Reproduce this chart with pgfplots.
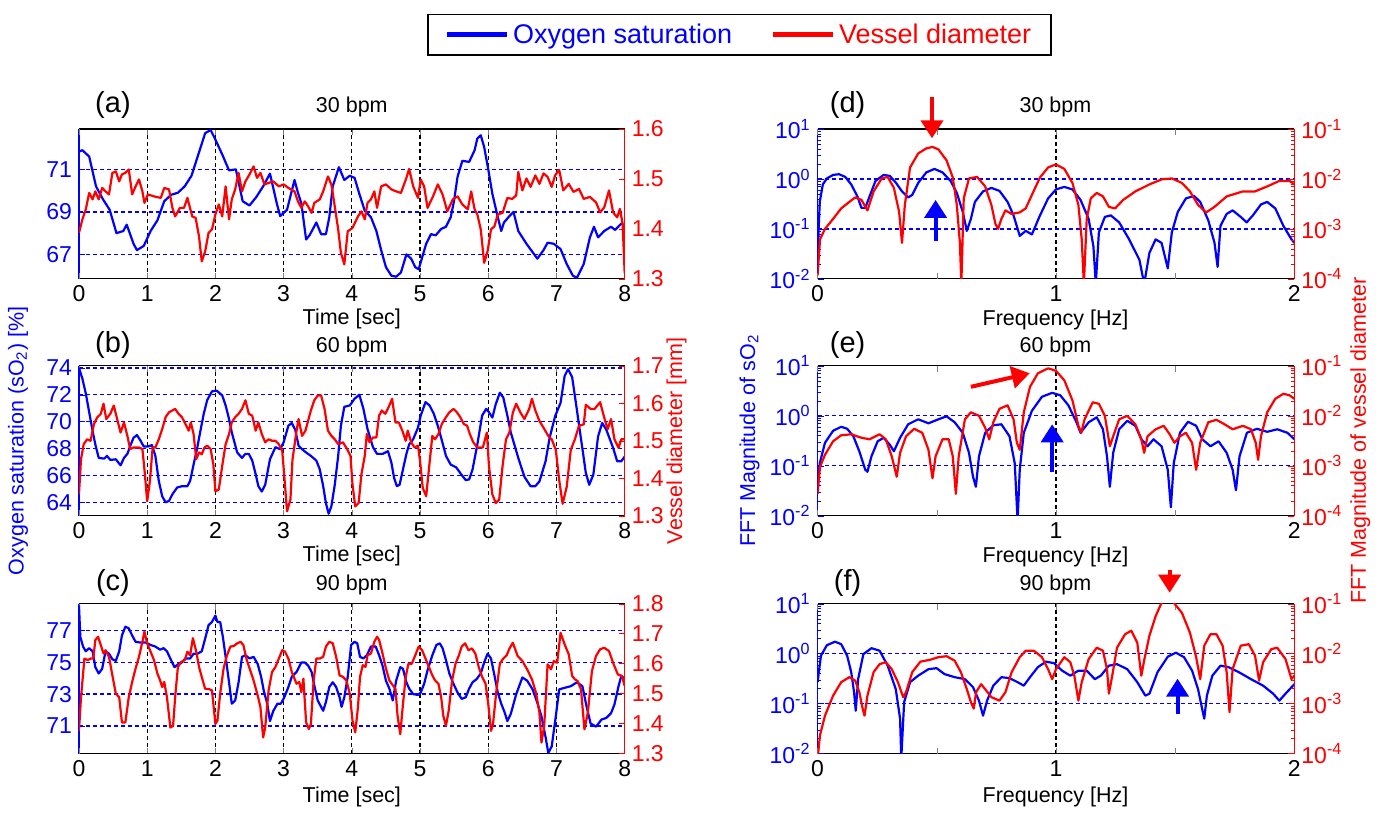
\documentclass[border=0pt]{standalone}
\usepackage{fontspec}
\setmainfont{Liberation Sans}
\usepackage{pgfplots}
\pgfplotsset{compat=1.18}
\usetikzlibrary{arrows.meta}

\definecolor{mblue}{rgb}{0,0,1}
\definecolor{mred}{rgb}{1,0,0}

\tikzset{arr/.style={line width=2pt, -{Triangle[width=11pt,length=9pt]}}}

\pgfplotsset{
  panel/.style={scale only axis, anchor=south west, height=75pt,
    clip mode=individual, tick align=inside,
    major tick length=3pt, minor tick length=1.6pt,
    /pgf/number format/assume math mode=true,
    ticklabel style={font=\fontsize{11.5}{11.5}\selectfont},
    every axis plot/.append style={line width=1.1pt, line join=round}},
  sob/.style={axis y line*=left,
    y axis line style={mblue, line width=0.6pt},
    x axis line style={black, line width=0.6pt},
    ytick style={mblue}, yticklabel style={mblue},
    major x grid style={black, dash pattern=on 2pt off 1.5pt, line width=0.6pt},
    major y grid style={mblue, dash pattern=on 2pt off 1.5pt, line width=0.7pt}},
  vd/.style={axis y line*=right, hide x axis,
    y axis line style={mred, line width=0.6pt},
    ytick style={mred}, yticklabel style={mred}},
  tpan/.style={panel, width=273pt, xmin=0, xmax=8,
    xtick={1,...,7}, extra x ticks={0,8}, extra x tick style={grid=none}},
  fblue/.style={panel, sob, width=238.5pt, xmin=0, xmax=2, ymin=1e-2, ymax=1e1,
    xtick={1}, xmajorgrids, extra x ticks={0,0.5,1.5,2}, extra x tick labels={0,,,2},
    extra x tick style={grid=none},
    ytick={0.1,1}, yticklabels={10\textsuperscript{-1},10\textsuperscript{0}}, ymajorgrids,
    extra y ticks={0.01,10}, extra y tick labels={10\textsuperscript{-2},10\textsuperscript{1}},
    extra y tick style={grid=none},
    minor ytick={0.02,0.03,0.04,0.05,0.06,0.07,0.08,0.09,0.2,0.3,0.4,0.5,0.6,0.7,0.8,0.9,2,3,4,5,6,7,8,9}},
  fred/.style={panel, vd, width=238.5pt, xmin=0, xmax=2, ymin=1e-4, ymax=1e-1,
    ytick={1e-4,1e-3,1e-2,1e-1},
    yticklabels={10\textsuperscript{-4},10\textsuperscript{-3},10\textsuperscript{-2},10\textsuperscript{-1}},
    minor ytick={2e-4,3e-4,4e-4,5e-4,6e-4,7e-4,8e-4,9e-4,2e-3,3e-3,4e-3,5e-3,6e-3,7e-3,8e-3,9e-3,2e-2,3e-2,4e-2,5e-2,6e-2,7e-2,8e-2,9e-2}},
}

\begin{document}
\begin{tikzpicture}
\begin{scope}[x=0.5pt,y=-0.5pt]
\useasboundingbox (0,0) rectangle (1377,810);
\end{scope}

% ---------- (a) 30 bpm ----------
\begin{axis}[tpan, sob, at={(39.5pt,-139.5pt)}, ymin=65.85, ymax=72.9,
  xmajorgrids, ytick={67,69,71}, ymajorgrids,
  legend style={at={(1.2106,1.627)}, anchor=center, draw=black, line width=0.7pt,
    font=\fontsize{13.5}{16}\selectfont, legend columns=2,
    /tikz/every even column/.append style={column sep=17pt},
    inner xsep=8pt, inner ysep=2.5pt},
  legend image code/.code={\draw[#1] (0pt,0pt) -- (30pt,0pt);}]
\addlegendimage{mblue, line width=2.5pt}
\addlegendentry{\textcolor{mblue}{Oxygen saturation}}
\addlegendimage{mred, line width=2.5pt}
\addlegendentry{\textcolor{mred}{Vessel diameter}}
\addplot[mblue] table {
0 71.83
0.05 71.9
0.15 71.6
0.25 70.2
0.35 69.6
0.45 69.1
0.55 68.0
0.65 68.1
0.7 68.4
0.8 67.5
0.85 67.2
0.95 67.4
1.05 68.1
1.15 68.6
1.25 69.5
1.35 69.8
1.45 69.9
1.55 70.2
1.65 70.7
1.75 71.7
1.85 72.7
1.93 72.85
2.0 72.4
2.1 71.7
2.2 70.95
2.3 71.0
2.4 69.5
2.5 69.3
2.6 69.7
2.7 70.2
2.8 70.8
2.9 69.4
2.95 68.8
3.05 69.1
3.16 70.5
3.21 69.9
3.26 69.4
3.33 67.7
3.38 67.9
3.48 68.5
3.55 67.95
3.62 67.95
3.67 68.75
3.72 70.2
3.81 71.1
3.89 70.5
3.97 70.7
4.04 70.6
4.11 69.85
4.19 69.05
4.28 68.75
4.36 68.1
4.43 67.2
4.5 66.4
4.58 66.0
4.65 65.95
4.72 66.15
4.8 67.0
4.87 66.8
4.93 66.4
4.98 66.3
5.03 66.85
5.09 67.5
5.16 67.95
5.23 67.9
5.31 68.2
5.38 68.3
5.45 68.75
5.5 69.55
5.55 70.65
5.62 71.4
5.72 71.35
5.8 71.9
5.84 72.45
5.89 72.6
5.94 72.05
6.0 71.0
6.06 69.85
6.14 68.75
6.19 68.1
6.23 68.5
6.31 68.8
6.37 69.0
6.44 68.1
6.56 67.5
6.72 66.8
6.81 67.2
6.87 67.55
6.96 67.5
7.06 67.25
7.15 66.55
7.24 66.0
7.3 65.9
7.4 66.55
7.49 67.8
7.55 68.3
7.61 67.8
7.7 68.1
7.8 68.3
7.86 68.15
7.95 68.45
8.0 68.35
};
\end{axis}
\begin{axis}[tpan, vd, at={(39.5pt,-139.5pt)}, ymin=1.3, ymax=1.6,
  ytick={1.3,1.4,1.5,1.6}, yticklabels={1.3,1.4,1.5,1.6}]
\addplot[mred] table {
0 1.392
0.05 1.419
0.1 1.439
0.15 1.472
0.2 1.459
0.24 1.475
0.29 1.459
0.34 1.482
0.39 1.475
0.44 1.469
0.49 1.512
0.54 1.515
0.59 1.495
0.63 1.509
0.68 1.512
0.73 1.519
0.78 1.469
0.83 1.485
0.88 1.499
0.93 1.475
0.96 1.452
1.01 1.469
1.1 1.465
1.2 1.462
1.25 1.482
1.32 1.479
1.37 1.442
1.41 1.425
1.48 1.442
1.54 1.442
1.59 1.462
1.66 1.425
1.71 1.422
1.76 1.385
1.8 1.335
1.85 1.355
1.9 1.392
1.95 1.399
2.0 1.429
2.05 1.449
2.1 1.425
2.15 1.485
2.2 1.419
2.24 1.459
2.29 1.479
2.34 1.512
2.39 1.475
2.44 1.495
2.5 1.509
2.56 1.525
2.61 1.502
2.66 1.512
2.72 1.489
2.78 1.492
2.85 1.495
2.93 1.485
3.0 1.489
3.07 1.482
3.16 1.475
3.21 1.455
3.26 1.442
3.31 1.455
3.36 1.445
3.41 1.432
3.45 1.452
3.53 1.459
3.58 1.475
3.65 1.505
3.7 1.489
3.75 1.445
3.8 1.399
3.84 1.352
3.89 1.329
3.94 1.395
4.01 1.402
4.09 1.425
4.14 1.435
4.19 1.419
4.23 1.452
4.28 1.459
4.33 1.475
4.37 1.442
4.43 1.485
4.5 1.489
4.58 1.479
4.65 1.475
4.72 1.472
4.8 1.502
4.84 1.52
4.9 1.485
4.97 1.462
5.01 1.499
5.06 1.485
5.11 1.442
5.19 1.465
5.26 1.489
5.33 1.469
5.4 1.435
5.48 1.459
5.55 1.465
5.62 1.449
5.7 1.439
5.75 1.475
5.8 1.439
5.84 1.429
5.89 1.399
5.94 1.332
5.99 1.355
6.04 1.399
6.09 1.405
6.14 1.429
6.21 1.432
6.28 1.462
6.35 1.46
6.41 1.467
6.44 1.514
6.5 1.477
6.56 1.501
6.62 1.484
6.69 1.507
6.75 1.49
6.81 1.511
6.87 1.504
6.93 1.484
6.98 1.507
7.04 1.518
7.1 1.477
7.18 1.49
7.25 1.474
7.33 1.48
7.4 1.46
7.49 1.464
7.58 1.453
7.64 1.433
7.7 1.443
7.77 1.477
7.83 1.433
7.89 1.423
7.93 1.44
7.97 1.41
8.0 1.311
};
\end{axis}

% ---------- (b) 60 bpm ----------
\begin{axis}[tpan, sob, at={(39.5pt,-258pt)}, ymin=63.0, ymax=74.15,
  xmajorgrids, ytick={64,66,...,74}, ymajorgrids]
\addplot[mblue] table {
0 74.0
0.05 73.2
0.1 72.1
0.15 70.7
0.2 69.3
0.24 68.3
0.29 67.3
0.37 67.25
0.41 67.45
0.46 67.15
0.54 67.2
0.61 66.75
0.66 67.3
0.71 67.6
0.76 68.3
0.8 68.8
0.85 69.0
0.9 68.6
0.95 68.15
1.01 68.15
1.07 68.25
1.12 67.45
1.17 65.6
1.22 64.45
1.27 64.0
1.32 64.1
1.37 64.6
1.44 65.1
1.51 65.2
1.59 65.2
1.63 65.6
1.68 66.8
1.73 67.95
1.78 69.3
1.83 70.6
1.88 71.6
1.95 72.25
2.02 72.3
2.1 71.95
2.15 71.2
2.2 70.2
2.24 69.2
2.32 67.7
2.39 67.3
2.44 67.6
2.49 67.6
2.54 67.1
2.59 66.1
2.63 65.2
2.68 64.8
2.73 65.3
2.8 67.2
2.88 68.1
2.95 67.95
3.0 68.45
3.07 69.7
3.12 69.9
3.17 69.4
3.22 68.2
3.26 68.0
3.33 67.7
3.4 67.45
3.48 67.1
3.53 66.45
3.58 65.2
3.62 63.95
3.66 63.15
3.7 63.7
3.75 65.3
3.8 67.45
3.84 69.7
3.89 71.1
3.97 71.2
4.04 71.7
4.11 72.0
4.17 70.95
4.23 69.45
4.31 68.1
4.37 67.6
4.45 67.6
4.53 67.8
4.58 66.95
4.62 65.8
4.66 65.2
4.7 65.3
4.75 66.45
4.8 67.6
4.84 68.3
4.9 68.7
4.97 69.55
5.01 70.45
5.08 71.45
5.14 71.2
5.2 70.6
5.26 69.7
5.32 68.6
5.38 67.45
5.45 66.8
5.53 66.6
5.6 66.1
5.67 65.65
5.72 65.7
5.77 66.45
5.84 68.3
5.91 70.45
5.97 70.95
6.01 70.7
6.06 70.3
6.11 71.3
6.17 72.15
6.22 71.8
6.28 70.45
6.33 69.2
6.44 67.3
6.53 65.9
6.62 65.2
6.69 65.2
6.75 65.55
6.84 67.05
6.9 68.8
6.98 70.4
7.06 71.4
7.12 73.4
7.17 73.9
7.23 73.3
7.29 71.2
7.36 68.7
7.43 66.2
7.48 65.3
7.54 66.05
7.61 68.9
7.67 69.9
7.73 69.4
7.83 68.05
7.89 67.05
7.95 67.05
8.0 67.4
};
\end{axis}
\begin{axis}[tpan, vd, at={(39.5pt,-258pt)}, ymin=1.3, ymax=1.7,
  ytick={1.3,1.4,1.5,1.6,1.7}, yticklabels={1.3,1.4,1.5,1.6,1.7}]
\addplot[mred] table {
0 1.357
0.03 1.451
0.07 1.491
0.12 1.504
0.17 1.5
0.22 1.545
0.27 1.563
0.32 1.572
0.36 1.599
0.4 1.558
0.46 1.572
0.51 1.594
0.56 1.558
0.61 1.522
0.66 1.549
0.71 1.513
0.75 1.478
0.8 1.482
0.88 1.482
0.93 1.478
0.96 1.424
1.0 1.339
1.04 1.392
1.08 1.482
1.12 1.482
1.17 1.504
1.22 1.531
1.27 1.563
1.32 1.576
1.37 1.581
1.41 1.585
1.46 1.572
1.51 1.563
1.56 1.545
1.61 1.527
1.64 1.549
1.68 1.518
1.72 1.451
1.76 1.469
1.8 1.464
1.84 1.482
1.88 1.487
1.93 1.478
1.97 1.437
2.0 1.365
2.05 1.37
2.1 1.433
2.15 1.491
2.2 1.518
2.24 1.549
2.29 1.563
2.34 1.572
2.39 1.585
2.44 1.608
2.49 1.572
2.54 1.567
2.59 1.527
2.63 1.549
2.68 1.518
2.73 1.496
2.78 1.504
2.83 1.5
2.88 1.5
2.93 1.491
2.98 1.473
3.01 1.406
3.05 1.312
3.1 1.343
3.13 1.45
3.19 1.527
3.22 1.558
3.27 1.513
3.32 1.527
3.36 1.554
3.4 1.581
3.45 1.608
3.5 1.621
3.55 1.621
3.6 1.585
3.65 1.527
3.7 1.513
3.75 1.504
3.8 1.491
3.87 1.496
3.93 1.478
3.98 1.46
4.01 1.383
4.05 1.325
4.1 1.334
4.14 1.41
4.19 1.46
4.22 1.518
4.26 1.496
4.31 1.509
4.36 1.509
4.4 1.567
4.44 1.581
4.49 1.572
4.54 1.59
4.59 1.612
4.64 1.549
4.69 1.549
4.74 1.527
4.79 1.5
4.82 1.527
4.87 1.496
4.92 1.482
4.97 1.487
5.0 1.446
5.04 1.374
5.09 1.352
5.13 1.424
5.18 1.513
5.22 1.504
5.27 1.518
5.32 1.545
5.38 1.563
5.43 1.576
5.49 1.585
5.54 1.576
5.59 1.563
5.64 1.545
5.69 1.54
5.73 1.518
5.78 1.496
5.84 1.482
5.92 1.482
5.98 1.522
6.01 1.433
6.06 1.357
6.11 1.334
6.16 1.343
6.21 1.433
6.26 1.504
6.31 1.522
6.36 1.575
6.41 1.599
6.47 1.576
6.53 1.558
6.6 1.585
6.64 1.612
6.69 1.581
6.75 1.553
6.81 1.535
6.88 1.513
6.93 1.504
6.99 1.476
7.04 1.395
7.09 1.332
7.15 1.377
7.21 1.476
7.27 1.504
7.33 1.54
7.4 1.544
7.43 1.596
7.5 1.585
7.56 1.585
7.64 1.603
7.7 1.562
7.75 1.531
7.8 1.558
7.85 1.504
7.91 1.481
7.95 1.504
8.0 1.504
};
\end{axis}

% ---------- (c) 90 bpm ----------
\begin{axis}[tpan, sob, at={(39.5pt,-377pt)}, ymin=69.25, ymax=78.7,
  xmajorgrids, ytick={71,73,75,77}, ymajorgrids]
\addplot[mblue] table {
0 78.6
0.02 76.6
0.06 76.0
0.1 75.7
0.15 75.9
0.2 75.7
0.24 74.7
0.29 74.3
0.34 74.6
0.39 75.7
0.44 75.55
0.49 75.2
0.54 75.1
0.59 75.7
0.63 76.7
0.68 77.25
0.73 77.15
0.78 76.7
0.83 76.3
0.9 76.25
0.98 76.25
1.05 76.1
1.12 76.0
1.19 75.8
1.24 75.9
1.29 75.7
1.35 75.15
1.4 74.7
1.46 74.9
1.51 75.0
1.56 75.25
1.63 75.25
1.68 75.55
1.74 75.55
1.8 75.7
1.85 76.5
1.9 77.35
1.95 77.55
2.0 77.95
2.03 77.55
2.07 77.55
2.11 76.6
2.15 75.35
2.2 73.75
2.24 72.4
2.29 72.6
2.34 73.75
2.39 75.35
2.44 75.45
2.5 75.25
2.56 75.35
2.62 74.9
2.67 74.1
2.71 73.2
2.76 72.4
2.8 71.3
2.85 71.95
2.91 72.4
2.96 72.4
3.01 72.8
3.07 73.45
3.12 74.1
3.19 74.4
3.26 75.0
3.31 75.0
3.36 74.8
3.41 74.4
3.45 73.55
3.5 72.6
3.58 71.95
3.62 72.5
3.67 73.45
3.72 73.75
3.77 73.45
3.82 72.8
3.85 72.2
3.89 72.8
3.94 74.1
3.99 76.1
4.04 76.3
4.08 76.2
4.12 75.35
4.17 75.25
4.22 75.45
4.28 76.0
4.35 76.0
4.4 75.45
4.45 74.8
4.5 73.85
4.55 73.35
4.6 72.6
4.65 73.85
4.71 74.7
4.75 74.6
4.8 73.75
4.84 73.35
4.9 73.0
4.97 72.95
5.01 73.1
5.06 73.65
5.11 74.5
5.18 75.45
5.24 76.1
5.29 76.2
5.33 75.9
5.38 75.15
5.43 74.3
5.49 73.65
5.55 73.1
5.61 72.7
5.67 72.8
5.72 73.35
5.77 73.75
5.83 73.95
5.89 74.3
5.94 75.0
5.99 75.55
6.04 75.25
6.09 74.2
6.14 73.1
6.19 72.4
6.24 71.85
6.28 71.3
6.33 71.75
6.41 73.0
6.5 74.05
6.57 73.85
6.65 73.3
6.72 72.45
6.78 71.6
6.84 70.3
6.88 69.3
6.93 69.7
6.99 71.6
7.04 73.3
7.12 73.4
7.21 73.5
7.3 73.75
7.38 73.5
7.44 72.25
7.5 71.15
7.58 70.95
7.66 71.4
7.73 71.5
7.8 71.8
7.85 72.35
7.91 73.5
7.95 74.15
8.0 73.95
};
\end{axis}
\begin{axis}[tpan, vd, at={(39.5pt,-377pt)}, ymin=1.3, ymax=1.8,
  ytick={1.3,1.4,1.5,1.6,1.7,1.8}, yticklabels={1.3,1.4,1.5,1.6,1.7,1.8}]
\addplot[mred] table {
0 1.376
0.03 1.488
0.08 1.617
0.13 1.612
0.17 1.617
0.21 1.617
0.24 1.679
0.28 1.69
0.32 1.662
0.36 1.634
0.39 1.645
0.44 1.623
0.49 1.561
0.54 1.5
0.59 1.488
0.63 1.404
0.68 1.404
0.73 1.488
0.78 1.539
0.83 1.584
0.88 1.623
0.93 1.673
0.96 1.707
1.0 1.668
1.05 1.64
1.1 1.612
1.15 1.567
1.19 1.544
1.22 1.522
1.25 1.539
1.29 1.488
1.34 1.387
1.38 1.393
1.41 1.488
1.45 1.589
1.5 1.606
1.55 1.612
1.59 1.64
1.63 1.628
1.67 1.685
1.72 1.64
1.76 1.589
1.8 1.556
1.85 1.516
1.9 1.516
1.95 1.511
2.0 1.399
2.03 1.41
2.07 1.5
2.12 1.584
2.17 1.628
2.22 1.657
2.27 1.659
2.32 1.668
2.37 1.673
2.41 1.662
2.46 1.612
2.51 1.578
2.56 1.544
2.62 1.494
2.66 1.455
2.7 1.354
2.73 1.387
2.78 1.511
2.83 1.572
2.88 1.589
2.93 1.617
2.98 1.645
3.02 1.64
3.07 1.617
3.12 1.572
3.19 1.533
3.23 1.539
3.26 1.505
3.29 1.55
3.33 1.404
3.37 1.382
3.4 1.399
3.44 1.544
3.48 1.617
3.53 1.617
3.58 1.623
3.62 1.657
3.67 1.673
3.72 1.668
3.77 1.623
3.82 1.561
3.87 1.556
3.92 1.544
3.97 1.5
4.01 1.41
4.05 1.371
4.09 1.455
4.12 1.556
4.16 1.595
4.2 1.589
4.23 1.628
4.28 1.634
4.33 1.673
4.37 1.69
4.4 1.679
4.45 1.634
4.5 1.584
4.55 1.544
4.6 1.528
4.64 1.516
4.67 1.427
4.71 1.365
4.75 1.466
4.79 1.556
4.83 1.6
4.88 1.6
4.93 1.628
4.98 1.657
5.03 1.645
5.08 1.617
5.13 1.589
5.18 1.561
5.22 1.544
5.27 1.533
5.31 1.488
5.34 1.427
5.38 1.393
5.42 1.443
5.47 1.544
5.52 1.6
5.57 1.628
5.61 1.657
5.66 1.668
5.71 1.645
5.76 1.651
5.81 1.634
5.86 1.589
5.91 1.556
5.96 1.533
6.0 1.466
6.04 1.376
6.07 1.399
6.12 1.511
6.17 1.6
6.22 1.617
6.27 1.628
6.31 1.65
6.36 1.67
6.43 1.626
6.5 1.609
6.57 1.581
6.64 1.548
6.7 1.503
6.75 1.437
6.78 1.337
6.82 1.392
6.87 1.598
6.92 1.581
6.96 1.609
7.01 1.603
7.06 1.703
7.12 1.664
7.18 1.631
7.23 1.559
7.27 1.548
7.31 1.542
7.36 1.514
7.41 1.381
7.46 1.437
7.52 1.576
7.58 1.626
7.64 1.648
7.7 1.653
7.77 1.642
7.83 1.603
7.9 1.564
7.96 1.559
8.0 1.526
};
\end{axis}

% ---------- (d) FFT 30 bpm ----------
\begin{axis}[ymode=log, fblue, at={(409pt,-139.5pt)}]
\addplot[mblue] table[x index=0, y expr={10^(\thisrowno{1})}] {
0 -1.55
0.009 -0.46
0.022 -0.11
0.039 0.01
0.065 0.08
0.09 0.094
0.116 0.04
0.141 -0.11
0.167 -0.35
0.184 -0.58
0.2 -0.58
0.218 -0.35
0.243 -0.04
0.277 0.08
0.303 0.06
0.329 -0.08
0.354 -0.25
0.38 -0.37
0.397 -0.32
0.422 -0.08
0.456 0.13
0.49 0.2
0.524 0.13
0.558 -0.04
0.584 -0.28
0.609 -0.66
0.626 -1.04
0.643 -0.80
0.66 -0.46
0.694 -0.25
0.729 -0.18
0.763 -0.24
0.797 -0.46
0.822 -0.73
0.848 -1.14
0.873 -1.04
0.899 -1.11
0.933 -0.73
0.967 -0.39
1.0 -0.21
1.035 -0.16
1.069 -0.21
1.103 -0.42
1.137 -0.80
1.157 -1.35
1.167 -2.1
1.18 -1.07
1.205 -0.76
1.23 -0.73
1.265 -0.87
1.307 -1.21
1.35 -1.62
1.37 -2.1
1.392 -1.48
1.418 -1.21
1.443 -1.28
1.469 -1.79
1.486 -1.07
1.511 -0.66
1.545 -0.39
1.579 -0.34
1.605 -0.46
1.639 -0.83
1.665 -1.28
1.678 -1.76
1.69 -0.94
1.716 -0.70
1.741 -0.63
1.775 -0.76
1.8 -0.87
1.826 -0.73
1.86 -0.51
1.886 -0.46
1.92 -0.59
1.954 -0.94
1.988 -1.21
2.0 -1.28
};
\draw[mred, arr] (axis cs:0.48,43.7) -- (axis cs:0.48,6.5);
\draw[mblue, arr] (axis cs:0.495,0.0575) -- (axis cs:0.495,0.38);
\end{axis}
\begin{axis}[ymode=log, fred, at={(409pt,-139.5pt)}]
\addplot[mred] table[x index=0, y expr={10^(\thisrowno{1})}] {
0 -3.93
0.01 -3.21
0.031 -3.0
0.065 -2.8
0.099 -2.59
0.133 -2.46
0.158 -2.37
0.184 -2.42
0.209 -2.63
0.235 -2.25
0.269 -1.99
0.294 -1.96
0.32 -2.18
0.342 -2.66
0.354 -3.28
0.366 -2.52
0.388 -1.77
0.422 -1.49
0.456 -1.39
0.482 -1.36
0.507 -1.41
0.541 -1.63
0.567 -1.97
0.584 -2.52
0.597 -3.28
0.603 -4.1
0.613 -2.39
0.635 -1.99
0.669 -1.96
0.703 -2.15
0.729 -2.52
0.746 -2.90
0.757 -3.0
0.771 -2.80
0.788 -2.63
0.814 -2.7
0.848 -2.67
0.873 -2.59
0.899 -2.32
0.933 -1.97
0.967 -1.77
1.0 -1.71
1.035 -1.8
1.069 -2.08
1.094 -2.52
1.108 -3.21
1.117 -4.1
1.129 -2.8
1.146 -2.39
1.171 -2.28
1.197 -2.35
1.222 -2.56
1.248 -2.59
1.282 -2.42
1.333 -2.25
1.392 -2.11
1.443 -2.01
1.486 -1.99
1.528 -2.08
1.562 -2.25
1.596 -2.52
1.63 -2.67
1.665 -2.56
1.716 -2.35
1.784 -2.25
1.835 -2.25
1.886 -2.15
1.937 -2.04
1.98 -2.04
2.0 -2.11
};
\end{axis}

% ---------- (e) FFT 60 bpm ----------
\begin{axis}[ymode=log, fblue, at={(409pt,-258pt)}]
\addplot[mblue] table[x index=0, y expr={10^(\thisrowno{1})}] {
0 -1.42
0.009 -0.95
0.031 -0.54
0.065 -0.3
0.099 -0.22
0.124 -0.26
0.15 -0.41
0.175 -0.71
0.2 -1.08
0.209 -1.12
0.226 -0.81
0.252 -0.51
0.277 -0.44
0.303 -0.58
0.32 -0.71
0.346 -0.44
0.38 -0.17
0.422 -0.07
0.465 -0.15
0.507 -0.07
0.541 -0.01
0.575 -0.13
0.609 -0.34
0.635 -0.74
0.652 -1.22
0.664 -1.42
0.677 -0.81
0.703 -0.34
0.737 -0.19
0.771 -0.17
0.805 -0.41
0.827 -0.95
0.839 -2.1
0.848 -1.08
0.865 -0.34
0.899 0.1
0.941 0.38
0.984 0.46
1.018 0.41
1.052 0.21
1.086 -0.13
1.103 -0.34
1.137 -0.13
1.171 -0.03
1.197 -0.27
1.214 -0.81
1.226 -1.42
1.24 -0.74
1.265 -0.27
1.299 -0.1
1.333 -0.2
1.358 -0.47
1.384 -0.61
1.409 -0.47
1.443 -0.61
1.469 -1.08
1.482 -1.83
1.494 -0.95
1.52 -0.34
1.554 -0.12
1.588 -0.2
1.614 -0.47
1.648 -0.61
1.682 -0.51
1.716 -0.74
1.741 -1.08
1.755 -1.49
1.77 -0.81
1.801 -0.34
1.843 -0.26
1.886 -0.32
1.928 -0.27
1.971 -0.34
2.0 -0.47
};
\draw[mblue, arr] (axis cs:0.984,0.0759) -- (axis cs:0.984,0.676);
\draw[mred, arr] (axis cs:0.643,3.8) -- (axis cs:0.89,7.1);
\end{axis}
\begin{axis}[ymode=log, fred, at={(409pt,-258pt)}]
\addplot[mred] table[x index=0, y expr={10^(\thisrowno{1})}] {
0 -3.56
0.01 -3.02
0.031 -2.78
0.065 -2.51
0.099 -2.39
0.141 -2.37
0.184 -2.44
0.218 -2.47
0.26 -2.37
0.286 -2.47
0.311 -2.81
0.332 -3.22
0.346 -2.74
0.371 -2.41
0.405 -2.26
0.439 -2.34
0.465 -2.68
0.482 -3.25
0.495 -2.81
0.524 -2.47
0.55 -2.47
0.567 -2.81
0.58 -3.56
0.592 -2.81
0.618 -2.07
0.643 -1.93
0.677 -2.0
0.703 -2.24
0.72 -2.47
0.737 -2.13
0.763 -1.86
0.797 -1.79
0.822 -2.07
0.836 -2.54
0.848 -2.68
0.865 -1.93
0.891 -1.42
0.924 -1.15
0.967 -1.05
1.0 -1.1
1.035 -1.29
1.069 -1.69
1.094 -2.2
1.106 -2.34
1.12 -2.07
1.154 -1.73
1.18 -1.76
1.205 -2.0
1.226 -2.61
1.24 -2.41
1.265 -2.07
1.299 -2.0
1.333 -2.17
1.358 -2.47
1.37 -2.74
1.384 -2.41
1.418 -2.27
1.452 -2.2
1.477 -2.37
1.497 -2.54
1.52 -2.41
1.545 -2.34
1.571 -2.54
1.588 -3.08
1.605 -2.54
1.639 -2.13
1.673 -2.08
1.707 -2.17
1.741 -2.27
1.784 -2.2
1.818 -2.27
1.838 -2.54
1.848 -2.88
1.86 -2.41
1.886 -1.93
1.92 -1.66
1.954 -1.56
1.98 -1.59
2.0 -1.66
};
\end{axis}

% ---------- (f) FFT 90 bpm ----------
\begin{axis}[ymode=log, fblue, at={(409pt,-377pt)}]
\addplot[mblue] table[x index=0, y expr={10^(\thisrowno{1})}] {
0 -0.57
0.014 -0.04
0.039 0.17
0.073 0.24
0.099 0.19
0.124 -0.04
0.141 -0.37
0.153 -0.77
0.16 -1.14
0.17 -0.51
0.192 -0.01
0.226 0.11
0.26 0.06
0.294 -0.24
0.328 -0.71
0.346 -1.3
0.351 -2.1
0.363 -0.97
0.388 -0.57
0.422 -0.44
0.465 -0.31
0.499 -0.29
0.533 -0.41
0.575 -0.47
0.618 -0.51
0.652 -0.67
0.677 -0.94
0.694 -1.24
0.711 -0.94
0.737 -0.64
0.771 -0.47
0.805 -0.49
0.839 -0.57
0.865 -0.64
0.891 -0.47
0.924 -0.27
0.958 -0.16
0.992 -0.19
1.026 -0.34
1.06 -0.44
1.094 -0.34
1.129 -0.34
1.163 -0.51
1.188 -0.44
1.222 -0.24
1.256 -0.21
1.299 -0.31
1.341 -0.57
1.375 -0.84
1.392 -0.8
1.426 -0.37
1.469 -0.06
1.503 0.02
1.537 -0.07
1.571 -0.34
1.596 -0.71
1.613 -1.1
1.622 -1.3
1.633 -0.84
1.656 -0.44
1.69 -0.24
1.724 -0.27
1.767 -0.37
1.818 -0.51
1.869 -0.64
1.911 -0.8
1.937 -0.94
1.963 -0.8
2.0 -0.61
};
\draw[mblue, arr] (axis cs:1.51,0.063) -- (axis cs:1.51,0.316);
\draw[mred, arr] (axis cs:1.477,47.9) -- (axis cs:1.477,16.6);
\end{axis}
\begin{axis}[ymode=log, fred, at={(409pt,-377pt)}]
\addplot[mred] table[x index=0, y expr={10^(\thisrowno{1})}] {
0 -4.1
0.01 -3.63
0.031 -3.24
0.065 -2.84
0.099 -2.57
0.133 -2.47
0.158 -2.54
0.175 -2.77
0.189 -3.1
0.197 -3.24
0.209 -2.84
0.235 -2.37
0.26 -2.21
0.286 -2.17
0.311 -2.31
0.337 -2.57
0.359 -2.87
0.371 -2.77
0.397 -2.37
0.431 -2.16
0.473 -2.12
0.507 -2.07
0.541 -2.05
0.575 -2.14
0.601 -2.37
0.626 -2.71
0.643 -2.97
0.655 -3.1
0.665 -2.77
0.686 -2.61
0.703 -2.71
0.729 -2.87
0.763 -2.94
0.788 -2.77
0.814 -2.37
0.848 -2.07
0.873 -1.94
0.907 -1.94
0.941 -2.07
0.967 -2.31
0.984 -2.51
1.0 -2.31
1.035 -2.07
1.06 -2.17
1.077 -2.44
1.094 -2.94
1.108 -2.57
1.137 -2.11
1.171 -1.88
1.197 -1.94
1.214 -2.31
1.222 -2.8
1.236 -2.44
1.256 -1.88
1.29 -1.61
1.316 -1.54
1.341 -1.78
1.358 -2.44
1.371 -2.11
1.392 -1.64
1.418 -1.25
1.443 -0.98
1.47 -0.9
1.494 -0.98
1.528 -1.18
1.562 -1.58
1.588 -2.07
1.605 -2.51
1.622 -1.84
1.648 -1.61
1.673 -1.61
1.699 -1.84
1.716 -2.37
1.728 -3.17
1.741 -2.31
1.775 -1.84
1.809 -1.81
1.835 -2.04
1.852 -2.54
1.869 -2.17
1.903 -1.91
1.928 -1.88
1.963 -2.11
1.988 -2.51
2.0 -2.44
};
\end{axis}

% ---------- labels ----------
\begin{scope}[x=0.5pt,y=-0.5pt]
\begin{scope}[font=\fontsize{14.5}{14.5}\selectfont]
\node at (113,105) {(a)};
\node at (113,345) {(b)};
\node at (113,583) {(c)};
\node at (848,105) {(d)};
\node at (848,345) {(e)};
\node at (848,583) {(f)};
\end{scope}
\begin{scope}[font=\fontsize{10.75}{10.75}\selectfont]
\node at (352,107) {30 bpm};
\node at (352,347) {60 bpm};
\node at (352,585) {90 bpm};
\node at (1056,107) {30 bpm};
\node at (1056,347) {60 bpm};
\node at (1056,585) {90 bpm};
\node at (352,319) {Time [sec]};
\node at (352,556) {Time [sec]};
\node at (352,797) {Time [sec]};
\node at (1056,320) {Frequency [Hz]};
\node at (1056,557) {Frequency [Hz]};
\node at (1056,797) {Frequency [Hz]};
\node[rotate=90, text=mblue] at (18,441) {Oxygen saturation (sO\textsubscript{2}) [\%]};
\node[rotate=90, text=mred] at (677,441) {Vessel diameter [mm]};
\node[rotate=90, text=mblue] at (750,441) {FFT Magnitude of sO\textsubscript{2}};
\node[rotate=90, text=mred] at (1361,441) {FFT Magnitude of vessel diameter};
\end{scope}
\end{scope}
\end{tikzpicture}
\end{document}
